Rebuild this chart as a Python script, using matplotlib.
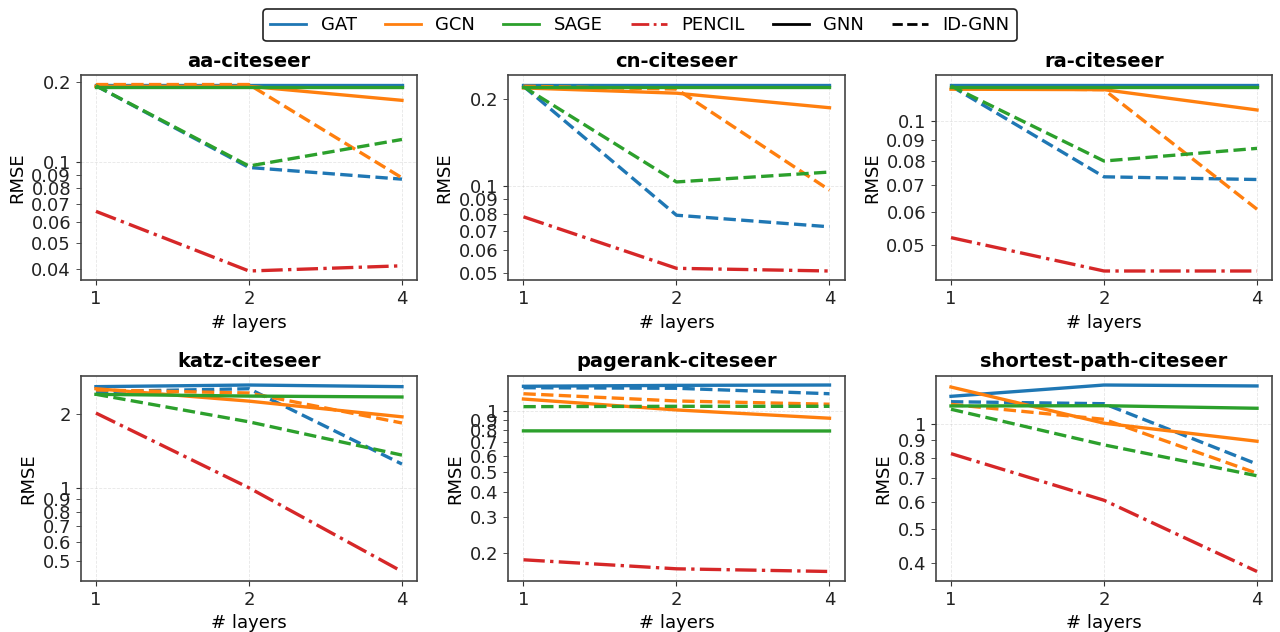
import numpy as np
import matplotlib
matplotlib.use("Agg")
import matplotlib.pyplot as plt
from matplotlib.lines import Line2D
from matplotlib import ticker

# nombre de couches (positions catégorielles)
layers = ["1", "2", "4"]
models = ["GAT", "GCN", "SAGE"]
colors = {"GAT": "#1f77b4", "GCN": "#ff7f0e", "SAGE": "#2ca02c", "PENCIL": "#d62728"}

titles = ["aa-citeseer", "cn-citeseer", "ra-citeseer",
          "katz-citeseer", "pagerank-citeseer", "shortest-path-citeseer"]

# RMSE, GNN classique
gnn_aa = {"GAT": [0.196, 0.196, 0.196], "GCN": [0.193, 0.193, 0.171], "SAGE": [0.192, 0.192, 0.192]}
gnn_cn = {"GAT": [0.225, 0.225, 0.225], "GCN": [0.219, 0.210, 0.187], "SAGE": [0.221, 0.221, 0.221]}
gnn_ra = {"GAT": [0.123, 0.123, 0.123], "GCN": [0.1198, 0.1195, 0.1066], "SAGE": [0.1215, 0.1215, 0.1215]}
gnn_katz = {"GAT": [2.59, 2.63, 2.59], "GCN": [2.54, 2.26, 1.95], "SAGE": [2.41, 2.37, 2.35]}
gnn_pr = {"GAT": [1.316, 1.33, 1.335], "GCN": [1.14, 1.008, 0.918], "SAGE": [0.796, 0.796, 0.795]}
gnn_sp = {"GAT": [1.202, 1.295, 1.287], "GCN": [1.278, 1.007, 0.894], "SAGE": [1.128, 1.13, 1.111]}

# RMSE, ID-GNN
id_aa = {"GAT": [0.194, 0.0958, 0.0866], "GCN": [0.196, 0.196, 0.0876], "SAGE": [0.194, 0.097, 0.122]}
id_cn = {"GAT": [0.222, 0.0794, 0.0724], "GCN": [0.222, 0.217, 0.097], "SAGE": [0.221, 0.1035, 0.112]}
id_ra = {"GAT": [0.122, 0.0732, 0.0721], "GCN": [0.1205, 0.1195, 0.061], "SAGE": [0.122, 0.080, 0.0859]}
id_katz = {"GAT": [2.47, 2.54, 1.25], "GCN": [2.51, 2.44, 1.84], "SAGE": [2.41, 1.86, 1.36]}
id_pr = {"GAT": [1.295, 1.287, 1.21], "GCN": [1.21, 1.115, 1.075], "SAGE": [1.046, 1.05, 1.05]}
id_sp = {"GAT": [1.16, 1.145, 0.769], "GCN": [1.14, 1.033, 0.724], "SAGE": [1.104, 0.873, 0.712]}

# RMSE, PENCIL
pencil_aa = [0.0656, 0.0392, 0.041]
pencil_cn = [0.0784, 0.052, 0.0509]
pencil_ra = [0.052, 0.0431, 0.0431]
pencil_katz = [2.02, 1.0, 0.455]
pencil_pr = [0.186, 0.168, 0.163]
pencil_sp = [0.824, 0.606, 0.379]

gnn_all = [gnn_aa, gnn_cn, gnn_ra, gnn_katz, gnn_pr, gnn_sp]
id_all = [id_aa, id_cn, id_ra, id_katz, id_pr, id_sp]
pencil_all = [pencil_aa, pencil_cn, pencil_ra, pencil_katz, pencil_pr, pencil_sp]

fig, axes = plt.subplots(2, 3, figsize=(12.8, 6.32), dpi=100)
x = np.arange(len(layers))
fmt = ticker.FuncFormatter(lambda v, p: "%g" % v)

for ax, title, gnn, idg, pen in zip(axes.flat, titles, gnn_all, id_all, pencil_all):
    for m in models:
        ax.plot(x, gnn[m], color=colors[m], lw=2.4, ls="-")
        ax.plot(x, idg[m], color=colors[m], lw=2.4, ls="--")
    ax.plot(x, pen, color=colors["PENCIL"], lw=2.4, ls="-.")
    ax.set_yscale("log")
    ax.yaxis.set_major_formatter(fmt)
    ax.yaxis.set_minor_formatter(fmt)
    ax.set_xticks(x)
    ax.set_xticklabels(layers)
    ax.tick_params(which="both", labelsize=13, labelcolor="#222222", color="#333333")
    ax.tick_params(which="minor", length=3.5)
    ax.grid(True, which="major", ls="--", lw=0.6, alpha=0.3)
    for s in ax.spines.values():
        s.set_color("#444444")
        s.set_linewidth(1.2)
    ax.set_title(title, fontsize=14, fontweight="bold")
    ax.set_ylabel("RMSE", fontsize=13)
    ax.set_xlabel("# layers", fontsize=13)

handles = [Line2D([0], [0], color=colors[m], lw=2) for m in models]
handles.append(Line2D([0], [0], color=colors["PENCIL"], lw=2, ls="-."))
handles.append(Line2D([0], [0], color="black", lw=2, ls="-"))
handles.append(Line2D([0], [0], color="black", lw=2, ls="--"))
labels = models + ["PENCIL", "GNN", "ID-GNN"]
leg = fig.legend(handles, labels, loc="upper center", ncol=6, fontsize=13,
                 columnspacing=1.55, bbox_to_anchor=(0.5, 1.0), frameon=True, fancybox=True)
leg.get_frame().set_edgecolor("#222222")
leg.get_frame().set_linewidth(1.2)
leg.get_frame().set_alpha(1)

plt.subplots_adjust(left=0.063, right=0.994, top=0.881, bottom=0.081, hspace=0.465, wspace=0.27)
plt.savefig("out.png")
